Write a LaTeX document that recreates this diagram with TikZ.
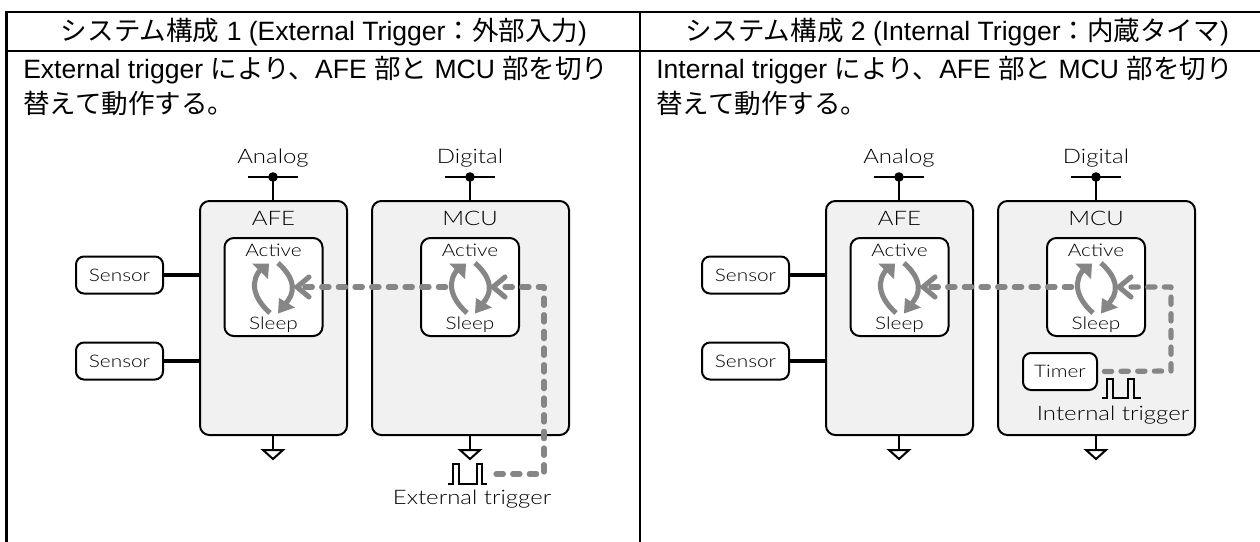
\documentclass[tikz,border=0pt]{standalone}
\usepackage{fontspec}
\setmainfont{Liberation Sans}
\newfontfamily\cjk{Noto Sans CJK JP}
\newfontfamily\thin[UprightFont=* Light,FakeStretch=1.2]{Lato}
\usetikzlibrary{arrows.meta}
\definecolor{trig}{HTML}{868686}
\definecolor{panelfill}{HTML}{F1F1F1}
\newcommand{\J}[1]{{\cjk #1}}
\newcommand{\px}[1]{#1*0.75pt}
\tikzset{
  tline/.style={line width=1.6pt,black},
  head/.style={font=\fontsize{19.9}{22}\selectfont,inner sep=0pt},
  body/.style={font=\fontsize{19.9}{22}\selectfont,inner sep=0pt,anchor=west},
  block/.style={draw,line width=1.5pt,rounded corners=7pt,fill=panelfill,inner sep=0pt,outer sep=0pt},
  inbox/.style={draw,line width=1.5pt,rounded corners=7pt,fill=white,inner sep=0pt,outer sep=0pt,minimum width=\px{98},minimum height=\px{98}},
  sensorbox/.style={draw,line width=1.5pt,rounded corners=6pt,fill=white,inner sep=0pt,outer sep=0pt,minimum width=\px{87},minimum height=\px{37}},
  lbl/.style={font=\thin\fontsize{13}{15}\selectfont,inner sep=0pt},
  lblbig/.style={font=\thin\fontsize{15}{17}\selectfont,inner sep=0pt},
  wire/.style={line width=1.5pt},
  thickwire/.style={line width=2.6pt},
  cyc/.style={draw=trig,line width=3.8pt},
  cychead/.style={fill=trig},
  dots/.style={draw=trig,line width=3.9pt,line cap=round,dash pattern=on 5.5pt off 7pt,line join=round},
  chev/.style={draw=trig,line width=3.8pt,line cap=round,line join=miter},
  pulse/.style={line width=1.1pt},
  gnd/.style={draw,line width=1.5pt,line join=miter}
}
\newcommand{\cycle}[1]{%
  \begin{scope}[xshift=\px{#1}]
  \draw[cyc] (270,313) .. controls (252,297) and (250,280) .. (262,268);
  \fill[cychead] (252,263.5) -- (269,263.5) -- (268,279) -- cycle;
  \draw[cyc] (278,263) .. controls (296,279) and (296,294) .. (284,305);
  \fill[cychead] (278,313.5) -- (295,307.5) -- (279,298) -- cycle;
  \end{scope}}
\newcommand{\panel}[1]{%
  \node[block,minimum width=\px{147},minimum height=\px{234}] (#1afe) at (273.5,318) {};
  \node[block,minimum width=\px{197},minimum height=\px{234}] (#1mcu) at (470.5,318) {};
  \node[inbox] (#1ia) at (273.5,287) {};
  \node[inbox] (#1im) at (470,287) {};
  \node[lblbig] (#1afet) at (273.5,218) {AFE};
  \node[lblbig] (#1mcut) at (470,218) {MCU};
  \node[lbl] (#1a1) at (273.5,250) {Active};
  \node[lbl] (#1s1) at (273.5,325) {Sleep};
  \node[lbl] (#1a2) at (470,250) {Active};
  \node[lbl] (#1s2) at (470,325) {Sleep};
  \node[lblbig] (#1an) at (273,158) {Analog};
  \node[lblbig] (#1di) at (470,158) {Digital};
  \coordinate (#1bA) at (273,177);
  \coordinate (#1bD) at (470,177);
  \draw[wire] (#1bA) ++(-25,0) -- ++(50,0);
  \draw[wire] (#1bD) ++(-25,0) -- ++(50,0);
  \fill (#1bA) circle (3.6pt);
  \fill (#1bD) circle (3.6pt);
  \draw[wire] (#1bA) -- (#1bA |- #1afe.north);
  \draw[wire] (#1bD) -- (#1bD |- #1mcu.north);
  \node[sensorbox] (#1s1b) at (119.5,275) {};
  \node[sensorbox] (#1s2b) at (119.5,361) {};
  \node[lbl] at (#1s1b) {Sensor};
  \node[lbl] at (#1s2b) {Sensor};
  \draw[thickwire] (#1s1b.east) -- (#1s1b.east -| #1afe.west);
  \draw[thickwire] (#1s2b.east) -- (#1s2b.east -| #1afe.west);
  \coordinate (#1ga) at (273,450);
  \coordinate (#1gm) at (470,450);
  \draw[wire] (#1ga |- #1afe.south) -- (#1ga);
  \draw[wire] (#1gm |- #1mcu.south) -- (#1gm);
  \draw[gnd] (#1ga) ++(-10,0) -- ++(20,0) -- ++(-10,9) -- cycle;
  \draw[gnd] (#1gm) ++(-10,0) -- ++(20,0) -- ++(-10,9) -- cycle;
  \cycle{0}
  \cycle{197}
  \draw[chev] (309,277) -- (297,287) -- (309,297);
  \draw[chev] (505,277) -- (493,287) -- (505,297);
  \draw[dots] (305,287) -- (446,287);
}
\begin{document}
\begin{tikzpicture}[x=0.75pt,y=-0.75pt]
\useasboundingbox (0,0) rectangle (1260,542);
\coordinate (tl) at (6.5,12); \coordinate (tr) at (1260,12);
\coordinate (bl) at (6.5,542);
\coordinate (tm) at (640,12); \coordinate (bm) at (640,542);
\coordinate (hl) at (6.5,51); \coordinate (hr) at (1260,51);
\draw[tline] (bl) -- (tl) -- (tr);
\draw[tline] (tm) -- (bm);
\draw[tline] (hl) -- (hr);
\node[head] (h1) at (324,32) {\J{システム構成} 1 (External Trigger\J{：外部入力})};
\node[head] (h2) at (957,32) {\J{システム構成} 2 (Internal Trigger\J{：内蔵タイマ})};
\node[body] (b1a) at (23,70) {External trigger \J{により、}AFE \J{部と} MCU \J{部を切り}};
\node[body] (b1b) at (23,103) {\J{替えて動作する。}};
\node[body] (b2a) at (656,70) {Internal trigger \J{により、}AFE \J{部と} MCU \J{部を切り}};
\node[body] (b2b) at (656,103) {\J{替えて動作する。}};
\panel{l}
\coordinate (lc1) at (544,287);
\coordinate (lc2) at (544,474);
\coordinate (lc3) at (494,474);
\draw[dots] (505,287) -- (lc1) -- (lc2) -- (lc3);
\draw[pulse] (448,484) -- (453,484) -- (453,464) -- (459,464) -- (459,484) -- (477,484) -- (477,464) -- (482,464) -- (482,484) -- (487,484);
\node[lblbig] (ext) at (472,499) {External trigger};
\begin{scope}[xshift=\px{626}]
\panel{r}
\node[sensorbox,minimum width=\px{74}] (timer) at (434,371.5) {};
\node[lbl] at (timer) {Timer};
\coordinate (rc1) at (545,287);
\coordinate (rc2) at (545,371);
\draw[dots] (505,287) -- (rc1) -- (rc2) -- (timer.east);
\draw[pulse] (476,398) -- (481,398) -- (481,379) -- (487,379) -- (487,398) -- (502,398) -- (502,379) -- (508,379) -- (508,398) -- (515,398);
\node[lblbig] (int) at (487,415) {Internal trigger};
\end{scope}
\end{tikzpicture}
\end{document}
